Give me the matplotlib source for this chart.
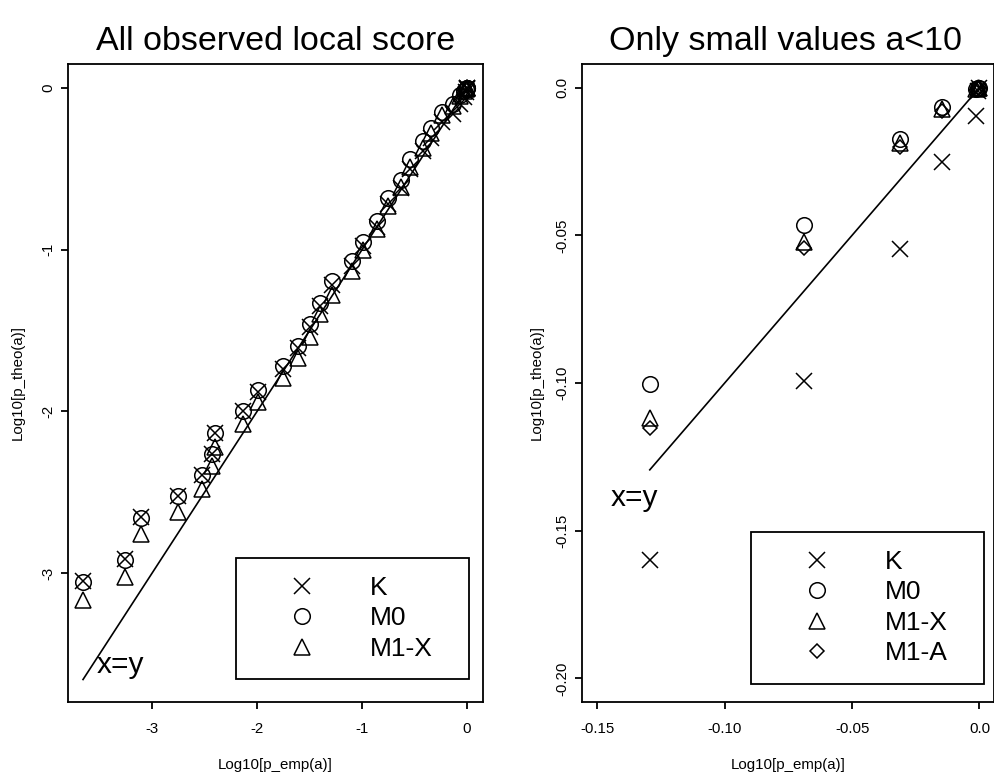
import matplotlib
matplotlib.use('Agg')
import matplotlib.pyplot as plt

plt.rcParams['font.family'] = ['Liberation Sans', 'DejaVu Sans']
plt.rcParams['axes.unicode_minus'] = False

# ---------------- data: all observed local scores ----------------
emp_all = [-3.657, -3.257, -3.108, -2.755, -2.52, -2.43, -2.40, -2.13, -1.99, -1.75,
           -1.61, -1.50, -1.40, -1.29, -1.10, -0.99, -0.86, -0.75, -0.63, -0.545,
           -0.42, -0.34, -0.24, -0.1294, -0.0688, -0.031, -0.0146, -0.0012, -0.0004, 0.0]
K_all = [-3.05, -2.91, -2.65, -2.52, -2.39, -2.26, -2.13, -2.00, -1.88, -1.74,
         -1.61, -1.48, -1.35, -1.22, -1.10, -0.98, -0.86, -0.72, -0.62, -0.50,
         -0.39, -0.31, -0.21, -0.1598, -0.0993, -0.0545, -0.0252, -0.0095, -0.0010, -0.0001]
M0_all = [-3.054, -2.92, -2.656, -2.525, -2.395, -2.26, -2.13, -1.998, -1.87, -1.72,
          -1.596, -1.46, -1.33, -1.195, -1.07, -0.95, -0.82, -0.68, -0.57, -0.44,
          -0.33, -0.25, -0.146, -0.1002, -0.0466, -0.0173, -0.0064, -0.0005, -0.0001, 0.0]
M1X_all = [-3.167, -3.023, -2.755, -2.62, -2.48, -2.34, -2.22, -2.08, -1.94, -1.79,
           -1.67, -1.54, -1.40, -1.28, -1.13, -1.00, -0.87, -0.73, -0.61, -0.49,
           -0.37, -0.28, -0.17, -0.1117, -0.0524, -0.0188, -0.0073, -0.0006, -0.0001, 0.0]

# ---------------- data: only small values a<10 ----------------
emp_small = [-0.1294, -0.0688, -0.031, -0.0146, -0.0012, -0.0004, 0.0]
K_small = [-0.1598, -0.0993, -0.0545, -0.0252, -0.0095, -0.0010, -0.0001]
M0_small = [-0.1002, -0.0466, -0.0173, -0.0064, -0.0005, -0.0001, 0.0]
M1X_small = [-0.1117, -0.0524, -0.0188, -0.0073, -0.0006, -0.0001, 0.0]
M1A_small = [-0.1153, -0.0543, -0.0201, -0.0078, -0.0007, -0.0002, 0.0]

titles = ["All observed local score", "Only small values a<10"]
xlabel = "Log10[p_emp(a)]"
ylabel = "Log10[p_theo(a)]"
xticks_all = [-3, -2, -1, 0]
yticks_all = [-3, -2, -1, 0]
xticks_small = [-0.15, -0.10, -0.05, 0.0]
yticks_small = [-0.20, -0.15, -0.10, -0.05, 0.0]
xtl_small = ["-0.15", "-0.10", "-0.05", "0.0"]
ytl_small = ["-0.20", "-0.15", "-0.10", "-0.05", "0.0"]

W, H = 995, 778
fig = plt.figure(figsize=(W / 100, H / 100), dpi=100)


def rect(x0, y0, x1, y1):
    return [x0 / W, 1 - y1 / H, (x1 - x0) / W, (y1 - y0) / H]


def fx(x):
    return x / W


def fy(y):
    return 1 - y / H


ax1 = fig.add_axes(rect(68, 64, 483, 702))
ax2 = fig.add_axes(rect(582, 64, 994, 702))

LW = 1.2
ms_x, ms_o, ms_t, ms_d = 11, 11.2, 11, 7.2
mew = 1.1

styles = {
    'K': dict(marker='x', markersize=ms_x),
    'M0': dict(marker='o', markersize=ms_o, markerfacecolor='none'),
    'M1-X': dict(marker='^', markersize=ms_t, markerfacecolor='none'),
    'M1-A': dict(marker='D', markersize=ms_d, markerfacecolor='none'),
}


def pts(ax, x, y, name):
    ax.plot(x, y, linestyle='none', color='black', markeredgecolor='black',
            markeredgewidth=mew, label=name, clip_on=False, **styles[name])


for ax in (ax1, ax2):
    for s in ax.spines.values():
        s.set_linewidth(1.3)
    ax.tick_params(direction='out', length=5, width=1.3, labelsize=10.8, colors='black')
    ax.tick_params(axis='x', pad=9.5)
    ax.tick_params(axis='y', pad=4.0)

# left panel
pts(ax1, emp_all, K_all, 'K')
pts(ax1, emp_all, M0_all, 'M0')
pts(ax1, emp_all, M1X_all, 'M1-X')
ax1.plot([min(emp_all), 0], [min(emp_all), 0], color='black', lw=LW)
ax1.text(-3.30, -3.565, "x=y", fontsize=21.5, ha='center', va='center')
ax1.set_xlim(-3.8, 0.152)
ax1.set_ylim(-3.796, 0.148)
ax1.set_xticks(xticks_all, [str(v) for v in xticks_all])
ax1.set_yticks(yticks_all, [str(v) for v in yticks_all], rotation=90, va='center')

# right panel
pts(ax2, emp_small, K_small, 'K')
pts(ax2, emp_small, M0_small, 'M0')
pts(ax2, emp_small, M1X_small, 'M1-X')
pts(ax2, emp_small, M1A_small, 'M1-A')
ax2.plot([min(emp_small), 0], [min(emp_small), 0], color='black', lw=LW)
ax2.text(-0.1354, -0.1388, "x=y", fontsize=21.5, ha='center', va='center')
ax2.set_xlim(-0.156, 0.0057)
ax2.set_ylim(-0.208, 0.008)
ax2.set_xticks(xticks_small, xtl_small)
ax2.set_yticks(yticks_small, ytl_small, rotation=90, va='center')


def legend(ax, x0, y0, x1):
    # pixel coords of the legend frame -> axes fraction
    bb = ax.get_position()
    axx0 = bb.x0 * W
    axw = bb.width * W
    axy1 = (1 - bb.y0) * H
    axh = bb.height * H
    bx = (x0 - axx0) / axw
    by = (axy1 - y0) / axh
    bw = (x1 - x0) / axw
    lg = ax.legend(loc='upper left', bbox_to_anchor=(bx, by, bw, 0), mode='expand',
                   borderaxespad=0, fontsize=19, frameon=True, fancybox=False,
                   edgecolor='black', framealpha=1, handlelength=3.61,
                   handletextpad=0.8, borderpad=0.69, labelspacing=0.245,
                   numpoints=1)
    lg.get_frame().set_linewidth(1.3)
    return lg


legend(ax1, 235.7, 557.7, 469.3)
legend(ax2, 750.7, 531.7, 984)

# titles and axis labels
fig.text(fx(275.5), fy(50), titles[0], fontsize=24.5, ha='center', va='baseline')
fig.text(fx(786), fy(50), titles[1], fontsize=24.5, ha='center', va='baseline')
fig.text(fx(275.5), fy(765), xlabel, fontsize=10.8, ha='center', va='center')
fig.text(fx(788), fy(765), xlabel, fontsize=10.8, ha='center', va='center')
fig.text(fx(18), fy(383), ylabel, fontsize=10.8, ha='center', va='center', rotation=90)
fig.text(fx(537), fy(383), ylabel, fontsize=10.8, ha='center', va='center', rotation=90)

fig.savefig('out.png', dpi=100)
